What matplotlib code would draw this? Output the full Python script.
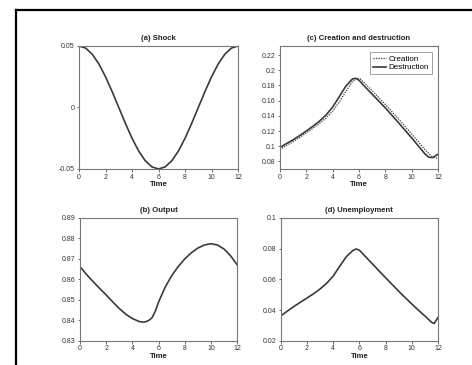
import matplotlib
matplotlib.use("Agg")
import matplotlib.pyplot as plt
from matplotlib.lines import Line2D

# ---- values ----
t_shock = [0, 0.5, 1, 1.5, 2, 2.5, 3, 3.5, 4, 4.5, 5, 5.5, 6,
           6.5, 7, 7.5, 8, 8.5, 9, 9.5, 10, 10.5, 11, 11.5, 12]
shock = [0.05, 0.0483, 0.0433, 0.0354, 0.025, 0.0129, 0.0, -0.0129, -0.025, -0.0354, -0.0433, -0.0483, -0.05,
         -0.0483, -0.0433, -0.0354, -0.025, -0.0129, 0.0, 0.0129, 0.025, 0.0354, 0.0433, 0.0483, 0.05]

t_output = [0, 0.5, 1, 1.5, 2, 2.5, 3, 3.5, 4, 4.5, 4.75, 5, 5.25, 5.5, 5.75, 6,
            6.5, 7, 7.5, 8, 8.5, 9, 9.5, 10, 10.5, 11, 11.5, 12]
output = [0.8662, 0.8624, 0.8589, 0.8556, 0.8524, 0.8490, 0.8458, 0.8430, 0.8409, 0.8395, 0.8392, 0.8393,
          0.8400, 0.8413, 0.8445, 0.8490, 0.8562, 0.8618, 0.8663, 0.8700, 0.8730, 0.8753, 0.8768, 0.8774,
          0.8768, 0.8748, 0.8715, 0.8671]

t_destr = [0, 0.5, 1, 1.5, 2, 2.5, 3, 3.5, 4, 4.5, 5, 5.5, 5.75, 6,
           6.5, 7, 7.5, 8, 8.5, 9, 9.5, 10, 10.5, 11, 11.3, 11.6, 12]
destruction = [0.0983, 0.1035, 0.1084, 0.1140, 0.1200, 0.1262, 0.1330, 0.1410, 0.1515, 0.1650, 0.1790, 0.1885,
               0.1895, 0.1870, 0.1775, 0.1685, 0.1595, 0.1505, 0.1408, 0.1310, 0.1210, 0.1110, 0.1005, 0.0900,
               0.0855, 0.0850, 0.0895]

t_creat = [0, 0.5, 1, 1.5, 2, 2.5, 3, 3.5, 4, 4.5, 5, 5.5, 5.8, 6.1,
           6.5, 7, 7.5, 8, 8.5, 9, 9.5, 10, 10.5, 11, 11.5, 12]
creation = [0.0955, 0.1010, 0.1060, 0.1115, 0.1175, 0.1235, 0.1300, 0.1370, 0.1460, 0.1580, 0.1720, 0.1850,
            0.1895, 0.1885, 0.1820, 0.1730, 0.1640, 0.1550, 0.1455, 0.1360, 0.1260, 0.1160, 0.1060, 0.0955,
            0.0870, 0.0835]

t_unemp = [0, 0.5, 1, 1.5, 2, 2.5, 3, 3.5, 4, 4.5, 5, 5.5, 5.75, 6,
           6.5, 7, 7.5, 8, 8.5, 9, 9.5, 10, 10.5, 11, 11.5, 11.7, 12]
unemp = [0.0363, 0.0394, 0.0424, 0.0452, 0.0479, 0.0507, 0.0538, 0.0575, 0.0622, 0.0686, 0.0748, 0.0788,
         0.0798, 0.0790, 0.0745, 0.0700, 0.0655, 0.0611, 0.0567, 0.0523, 0.0481, 0.0440, 0.0400, 0.0362,
         0.0322, 0.0313, 0.0352]

x_ticks = [0, 2, 4, 6, 8, 10, 12]

LINE = "#3a3a3a"
SPINE = "#777777"
FS = 5.0

plt.rcParams["font.family"] = ["Liberation Sans", "DejaVu Sans"]
fig = plt.figure(figsize=(4.72, 3.65), dpi=100)

# outer frame (top and left edges only, as in the scan)
fig.add_artist(Line2D([0.034, 1.0], [0.973, 0.973], transform=fig.transFigure, color="black", lw=1.6))
fig.add_artist(Line2D([0.034, 0.034], [0.0, 0.973], transform=fig.transFigure, color="black", lw=1.6))


def style(ax, title, ylim, yticks, ylabels):
    ax.set_xlim(0, 12)
    ax.set_ylim(*ylim)
    ax.set_xticks(x_ticks)
    ax.set_yticks(yticks)
    ax.set_yticklabels(ylabels)
    ax.tick_params(labelsize=FS, length=1.8, width=0.5, pad=1.5, colors="#333333")
    for s in ax.spines.values():
        s.set_color(SPINE)
        s.set_linewidth(0.8)
    ax.set_title(title, fontsize=FS + 0.6, fontweight="bold", pad=4, color="#222222")
    ax.set_xlabel("Time", fontsize=FS + 0.6, fontweight="bold", labelpad=0.5, color="#222222")


ax_a = fig.add_axes([0.1674, 0.537, 0.337, 0.337])
ax_c = fig.add_axes([0.593, 0.537, 0.335, 0.337])
ax_b = fig.add_axes([0.1695, 0.066, 0.333, 0.337])
ax_d = fig.add_axes([0.595, 0.066, 0.333, 0.337])

ax_a.plot(t_shock, shock, color=LINE, lw=1.2)
style(ax_a, "(a) Shock", (-0.05, 0.05), [-0.05, 0, 0.05], ["-0.05", "0", "0.05"])

ax_c.plot(t_creat, creation, color=LINE, lw=0.9, linestyle=(0, (1, 1)), label="Creation")
ax_c.plot(t_destr, destruction, color=LINE, lw=1.2, label="Destruction")
style(ax_c, "(c) Creation and destruction", (0.07, 0.232),
      [0.08, 0.10, 0.12, 0.14, 0.16, 0.18, 0.20, 0.22],
      ["0.08", "0.1", "0.12", "0.14", "0.16", "0.18", "0.2", "0.22"])
leg = ax_c.legend(loc="upper right", fontsize=5.8, frameon=True, fancybox=False,
                  handlelength=1.6, handletextpad=0.35, borderpad=0.35, labelspacing=0.1,
                  borderaxespad=0.8)
leg.get_frame().set_edgecolor(SPINE)
leg.get_frame().set_linewidth(0.6)

ax_b.plot(t_output, output, color=LINE, lw=1.2)
style(ax_b, "(b) Output", (0.83, 0.89),
      [0.83, 0.84, 0.85, 0.86, 0.87, 0.88, 0.89],
      ["0.83", "0.84", "0.85", "0.86", "0.87", "0.88", "0.89"])

ax_d.plot(t_unemp, unemp, color=LINE, lw=1.2)
style(ax_d, "(d) Unemployment", (0.02, 0.10),
      [0.02, 0.04, 0.06, 0.08, 0.10],
      ["0.02", "0.04", "0.06", "0.08", "0.1"])

fig.savefig("out.png", dpi=100)
